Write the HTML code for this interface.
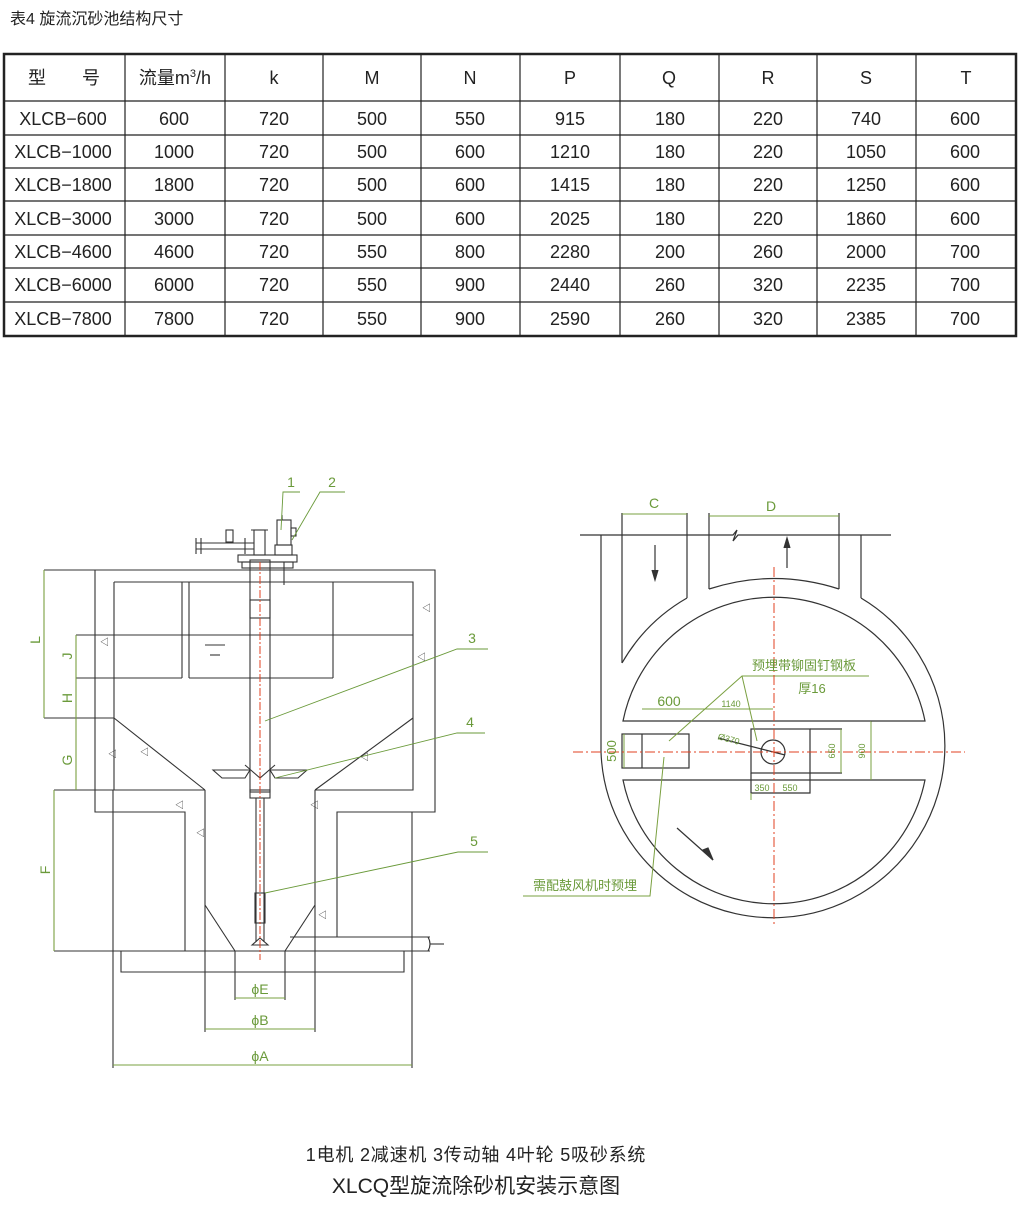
<!DOCTYPE html>
<html><head><meta charset="utf-8"><style>
body{margin:0;background:#fff;}
svg{display:block}
text{font-family:"Liberation Sans","Noto Sans CJK SC",sans-serif;}
</style></head><body>
<svg width="1022" height="1219" viewBox="0 0 1022 1219" xmlns="http://www.w3.org/2000/svg">
<rect width="1022" height="1219" fill="#fff"/>
<text x="10" y="24" font-size="16" fill="#222">表4  旋流沉砂池结构尺寸</text>
<g stroke="#222" fill="none">
<rect x="4" y="54" width="1012" height="282" stroke-width="2.5"/>
<g stroke-width="1.2">
<line x1="4" y1="101" x2="1016" y2="101"/>
<line x1="4" y1="135" x2="1016" y2="135"/>
<line x1="4" y1="168" x2="1016" y2="168"/>
<line x1="4" y1="201" x2="1016" y2="201"/>
<line x1="4" y1="235" x2="1016" y2="235"/>
<line x1="4" y1="268" x2="1016" y2="268"/>
<line x1="4" y1="302" x2="1016" y2="302"/>
<line x1="125" y1="54" x2="125" y2="336"/><line x1="225" y1="54" x2="225" y2="336"/>
<line x1="323" y1="54" x2="323" y2="336"/><line x1="421" y1="54" x2="421" y2="336"/>
<line x1="520" y1="54" x2="520" y2="336"/><line x1="620" y1="54" x2="620" y2="336"/>
<line x1="719" y1="54" x2="719" y2="336"/><line x1="817" y1="54" x2="817" y2="336"/>
<line x1="916" y1="54" x2="916" y2="336"/>
</g></g>
<g font-size="18" fill="#222" text-anchor="middle">
<text x="64" y="84">型　　号</text><text x="175" y="84">流量m<tspan font-size="11" dy="-7">3</tspan><tspan dy="7">/h</tspan></text>
<text x="274" y="84">k</text><text x="372" y="84">M</text><text x="470" y="84">N</text><text x="570" y="84">P</text><text x="669" y="84">Q</text><text x="768" y="84">R</text><text x="866" y="84">S</text><text x="966" y="84">T</text>
<g>
<text x="63" y="125">XLCB−600</text><text x="174" y="125">600</text><text x="274" y="125">720</text><text x="372" y="125">500</text><text x="470" y="125">550</text><text x="570" y="125">915</text><text x="670" y="125">180</text><text x="768" y="125">220</text><text x="866" y="125">740</text><text x="965" y="125">600</text>
<text x="63" y="158">XLCB−1000</text><text x="174" y="158">1000</text><text x="274" y="158">720</text><text x="372" y="158">500</text><text x="470" y="158">600</text><text x="570" y="158">1210</text><text x="670" y="158">180</text><text x="768" y="158">220</text><text x="866" y="158">1050</text><text x="965" y="158">600</text>
<text x="63" y="191">XLCB−1800</text><text x="174" y="191">1800</text><text x="274" y="191">720</text><text x="372" y="191">500</text><text x="470" y="191">600</text><text x="570" y="191">1415</text><text x="670" y="191">180</text><text x="768" y="191">220</text><text x="866" y="191">1250</text><text x="965" y="191">600</text>
<text x="63" y="225">XLCB−3000</text><text x="174" y="225">3000</text><text x="274" y="225">720</text><text x="372" y="225">500</text><text x="470" y="225">600</text><text x="570" y="225">2025</text><text x="670" y="225">180</text><text x="768" y="225">220</text><text x="866" y="225">1860</text><text x="965" y="225">600</text>
<text x="63" y="258">XLCB−4600</text><text x="174" y="258">4600</text><text x="274" y="258">720</text><text x="372" y="258">550</text><text x="470" y="258">800</text><text x="570" y="258">2280</text><text x="670" y="258">200</text><text x="768" y="258">260</text><text x="866" y="258">2000</text><text x="965" y="258">700</text>
<text x="63" y="291">XLCB−6000</text><text x="174" y="291">6000</text><text x="274" y="291">720</text><text x="372" y="291">550</text><text x="470" y="291">900</text><text x="570" y="291">2440</text><text x="670" y="291">260</text><text x="768" y="291">320</text><text x="866" y="291">2235</text><text x="965" y="291">700</text>
<text x="63" y="325">XLCB−7800</text><text x="174" y="325">7800</text><text x="274" y="325">720</text><text x="372" y="325">550</text><text x="470" y="325">900</text><text x="570" y="325">2590</text><text x="670" y="325">260</text><text x="768" y="325">320</text><text x="866" y="325">2385</text><text x="965" y="325">700</text>
</g></g>

<g stroke="#333" stroke-width="1.1" fill="none">
<polyline points="96,570 435,570 435,812 337,812 337,937"/>
<polyline points="95,570 95,812 185,812 185,951"/>
<polyline points="114,582 413,582 413,790 315,790"/>
<polyline points="114,582 114,790 205,790"/>
<line x1="44" y1="570" x2="96" y2="570"/>
<line x1="182" y1="582" x2="182" y2="678"/><line x1="189" y1="582" x2="189" y2="678"/><line x1="333" y1="582" x2="333" y2="678"/>
<line x1="76" y1="635" x2="413" y2="635"/>
<line x1="76" y1="678" x2="182" y2="678"/><line x1="189" y1="678" x2="333" y2="678"/>
<line x1="44" y1="718" x2="114" y2="718"/>
<line x1="205" y1="645" x2="225" y2="645"/><line x1="210" y1="655" x2="220" y2="655"/>
<line x1="114" y1="718" x2="205" y2="790"/><line x1="413" y1="718" x2="315" y2="790"/>
<line x1="205" y1="790" x2="205" y2="1032"/><line x1="315" y1="790" x2="315" y2="1032"/>
<line x1="205" y1="905" x2="235" y2="951"/><line x1="315" y1="905" x2="285" y2="951"/>
<line x1="235" y1="951" x2="235" y2="1000"/><line x1="285" y1="951" x2="285" y2="1000"/>
<line x1="54" y1="951" x2="412" y2="951"/>
<line x1="54" y1="790" x2="205" y2="790"/>
<line x1="113" y1="790" x2="113" y2="1068"/><line x1="412" y1="812" x2="412" y2="1068"/>
<polyline points="121,951 121,972 404,972 404,951"/>
<line x1="290" y1="937" x2="430" y2="937"/><line x1="285" y1="951" x2="430" y2="951"/>
<path d="M428,937 q4,7 0,14"/><line x1="430" y1="944" x2="444" y2="944"/>
<rect x="250" y="560" width="20" height="232"/>
<rect x="250" y="600" width="20" height="18"/>
<rect x="250" y="790" width="20" height="8"/>
<line x1="256" y1="798" x2="256" y2="942"/><line x1="264" y1="798" x2="264" y2="942"/>
<rect x="255" y="893" width="10" height="30"/>
<path d="M252,945 L260,938 L268,945 Z"/>
<path d="M213,770 L250,770 L245,778 L222,778 Z"/><path d="M270,770 L307,770 L298,778 L275,778 Z"/>
<path d="M245,765 L260,778 L275,765"/>
<rect x="238" y="555" width="59" height="7"/>
<rect x="242" y="562" width="51" height="6"/>
<rect x="277" y="520" width="14" height="25"/><rect x="291" y="528" width="5" height="8"/>
<rect x="275" y="545" width="17" height="10"/>
<line x1="282" y1="515" x2="282" y2="520"/>
<rect x="254" y="530" width="11" height="25"/><line x1="251" y1="530" x2="268" y2="530"/>
<line x1="196" y1="543" x2="254" y2="543"/><line x1="196" y1="549" x2="254" y2="549"/>
<line x1="196" y1="538" x2="196" y2="554"/><line x1="201" y1="538" x2="201" y2="554"/>
<rect x="226" y="530" width="7" height="12"/><line x1="245" y1="538" x2="245" y2="554"/>
<line x1="284" y1="562" x2="284" y2="585"/>
<line x1="44" y1="570" x2="44" y2="718" stroke="#7aa040"/>
<line x1="76" y1="635" x2="76" y2="790" stroke="#7aa040"/>
<line x1="54" y1="790" x2="54" y2="951" stroke="#7aa040"/>
<line x1="235" y1="998" x2="285" y2="998" stroke="#7aa040"/>
<line x1="205" y1="1029" x2="315" y2="1029" stroke="#7aa040"/>
<line x1="113" y1="1065" x2="412" y2="1065" stroke="#7aa040"/>
<g stroke="#6a9a3a" stroke-width="0.9">
<polyline points="300,492 283,492 281,530"/>
<polyline points="345,492 320,492 292,540"/>
<polyline points="488,649 457,649 265,721"/>
<polyline points="485,733 457,733 275,778"/>
<polyline points="488,852 458,852 265,893"/>
</g>
</g>
<line x1="260" y1="562" x2="260" y2="960" stroke="#e04020" stroke-width="1" stroke-dasharray="8,2,2,2"/>
<g fill="#333" font-size="9"><text x="422" y="611">◁</text><text x="417" y="660">◁</text><text x="140" y="755">◁</text><text x="175" y="808">◁</text><text x="360" y="760">◁</text><text x="108" y="757">◁</text><text x="310" y="808">◁</text><text x="196" y="836">◁</text><text x="318" y="918">◁</text><text x="100" y="645">◁</text></g>
<g fill="#6a9a3a" font-size="14" text-anchor="middle">
<text x="291" y="487">1</text><text x="332" y="487">2</text><text x="472" y="643">3</text><text x="470" y="727">4</text><text x="474" y="846">5</text>
<text x="260" y="994">ϕE</text><text x="260" y="1025">ϕB</text><text x="260" y="1061">ϕA</text>
<text transform="translate(40,640) rotate(-90)">L</text>
<text transform="translate(72,656) rotate(-90)">J</text>
<text transform="translate(72,698) rotate(-90)">H</text>
<text transform="translate(72,760) rotate(-90)">G</text>
<text transform="translate(50,870) rotate(-90)">F</text>
</g>

<g stroke="#333" stroke-width="1.2" fill="none">
<polyline points="580,535 733,535 737,530 733,541 738,535 891,535"/>
<line x1="601" y1="535" x2="601" y2="752"/>
<line x1="861" y1="535" x2="861" y2="598"/>
<path d="M861,598 A172,172 0 1 1 601,752"/>
<polyline points="622,513 622,663"/>
<polyline points="687,513 687,598"/>
<path d="M622,663 A176,176 0 0 1 687,598"/>
<polyline points="709,513 709,589"/><polyline points="839,513 839,589"/>
<path d="M709,589 Q774,568 839,589"/>
<path d="M623,721 A154,154 0 0 1 925,721 Z"/>
<path d="M623,780 L925,780 A154,154 0 0 1 623,780 Z"/>
<rect x="622" y="734" width="67" height="34"/><line x1="642" y1="734" x2="642" y2="768"/>
<rect x="751" y="729" width="59" height="44"/>
<polyline points="751,773 751,793 810,793 810,773"/>
<line x1="810" y1="729" x2="842" y2="729"/><line x1="810" y1="773" x2="842" y2="773"/>
<circle cx="773" cy="752" r="12"/>
<line x1="718" y1="738" x2="785" y2="755"/>
<line x1="655" y1="545" x2="655" y2="578"/><path d="M652,570 L655,580 L658,570" fill="#333"/>
<line x1="787" y1="568" x2="787" y2="540"/><path d="M784,548 L787,538 L790,548" fill="#333"/>
<line x1="677" y1="828" x2="713" y2="860"/><path d="M703,850 L713,860 L708,848 Z" fill="#333"/>
</g>
<g stroke="#7aa040" stroke-width="1" fill="none">
<line x1="622" y1="514" x2="687" y2="514"/><line x1="709" y1="516" x2="839" y2="516"/>
<line x1="642" y1="709" x2="773" y2="709"/>
<line x1="624" y1="734" x2="624" y2="768"/>
<line x1="841" y1="729" x2="841" y2="773"/><line x1="871" y1="721" x2="871" y2="780"/>
<line x1="751" y1="793" x2="751" y2="800"/>
<polyline points="669,741 742,676 869,676"/><line x1="742" y1="676" x2="757" y2="741"/>
<polyline points="523,896 650,896 664,757"/>
<line x1="871" y1="721" x2="925" y2="721" stroke="#333"/>
</g>
<g stroke="#e04020" stroke-width="1" stroke-dasharray="10,3,2,3">
<line x1="573" y1="752" x2="965" y2="752"/><line x1="774" y1="567" x2="774" y2="925"/>
</g>
<g fill="#6a9a3a" text-anchor="middle">
<text x="654" y="508" font-size="14">C</text><text x="771" y="511" font-size="14">D</text>
<text x="669" y="706" font-size="14">600</text><text x="731" y="707" font-size="9">1140</text>
<text x="804" y="670" font-size="13">预埋带铆固钉钢板</text><text x="812" y="693" font-size="13">厚16</text>
<text x="728" y="742" font-size="9" transform="rotate(15 728 742)">Ø370</text>
<text x="762" y="791" font-size="9">350</text><text x="790" y="791" font-size="9">550</text>
<text transform="translate(616,751) rotate(-90)" font-size="13">500</text>
<text transform="translate(835,751) rotate(-90)" font-size="9">650</text>
<text transform="translate(865,751) rotate(-90)" font-size="9">900</text>
<text x="585" y="890" font-size="13">需配鼓风机时预埋</text>
</g>

<text x="476" y="1161" font-size="18" letter-spacing="0.8" fill="#222" text-anchor="middle">1电机  2减速机  3传动轴  4叶轮  5吸砂系统</text>
<text x="476" y="1193" font-size="21" fill="#222" text-anchor="middle">XLCQ型旋流除砂机安装示意图</text>
</svg>
</body></html>
